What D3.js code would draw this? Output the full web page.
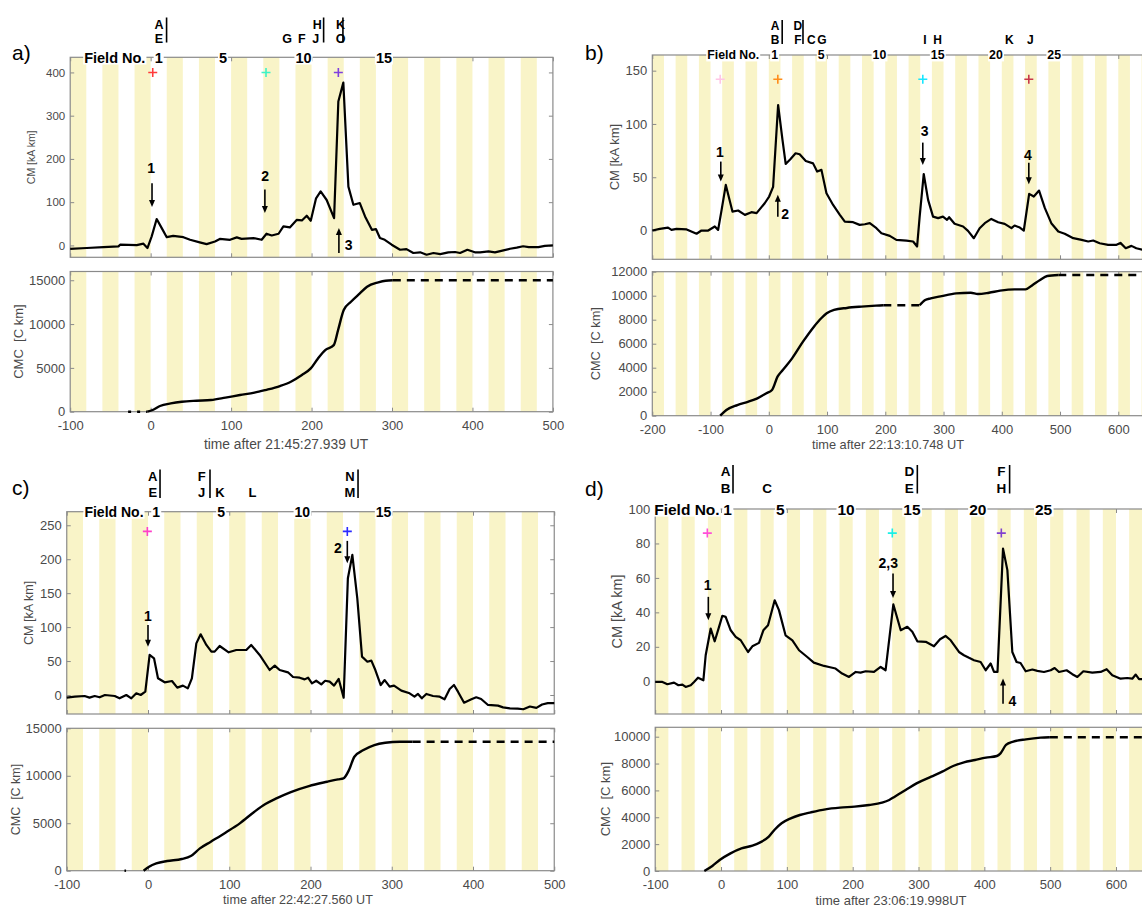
<!DOCTYPE html>
<html>
<head>
<meta charset="utf-8">
<script src="https://cdn.jsdelivr.net/npm/d3@7"></script>
<style>
body { margin: 0; background: #fff; }
svg { display: block; font-family: "Liberation Sans", Arial, sans-serif; }
</style>
</head>
<body>
<svg id="chart" width="1142" height="908"></svg>
<script>
// ---- data: [seconds, value] ----
const cmA = [[-100,-7.8],[-79.5,-6],[-58.7,-3.8],[-40,-2.2],[-38,1.6],[-17.3,0.8],[-9,4],[-4,-6],[1.3,21],[7.5,61],[13.8,40],[20,19],[28,22],[40.7,19],[49,13],[61,7],[69.6,3],[80,9],[86,15],[98.7,13],[107,18.5],[113,15],[128,17],[138,13],[144,27],[150.5,23],[159,27],[165,44],[173,41.6],[181.5,59],[188,57.7],[194,68.5],[199,57],[205.6,109],[211.3,124.7],[218.8,105],[228,63],[233.3,332.6],[239.5,376.4],[245.8,136],[252,94],[260,98],[266.5,67],[275,36],[280,37.8],[285,17],[291,13],[299.6,1.6],[310,-10],[318,-8.5],[326.5,-17.6],[335,-16],[343,-21.5],[351.5,-17.6],[360,-20],[370,-16],[378.4,-15.3],[384.6,-17.6],[393.7,-10],[403,-16],[409.4,-16],[420,-14],[428,-16],[438.5,-11.5],[446.8,-7.7],[455,-5],[463,-2],[470,-4],[482,-4],[490,-1],[500,0]];
const cmcA = [[-4,0],[2.5,194],[11.6,650],[25,950],[38.7,1140],[57,1255],[75,1330],[93,1600],[111,1900],[129,2170],[142.6,2470],[160.7,2930],[174.3,3420],[188,4180],[199,4940],[208,6080],[217,7030],[227.6,7600],[233,9320],[240,11600],[249,12550],[260,13500],[269,14260],[283,14760],[292,14950],[301,15000]];
const cmcAGaps = [[[-28,0],[-4,0]],[[301,15000],[500,15000]]];

const cmB = [[-200,0],[-187,1.6],[-173,2.8],[-167,0.6],[-158.5,1.6],[-141,1],[-124,-3],[-115.6,0],[-104,0],[-92.7,3.8],[-87,0.6],[-81,19.4],[-73.8,42.8],[-62.4,17.8],[-52.6,18.8],[-41,14.7],[-29.8,17.2],[-21,16.3],[-7,25.6],[0.6,31.9],[7.4,41],[16,117.8],[23.5,85],[29,62.5],[37,66.9],[46,72.5],[53,71.6],[63.5,65.3],[76,63],[83,55.3],[90.4,56.9],[99,35],[110.4,24],[122,14.7],[130.5,8.4],[144.8,7.8],[156,5.3],[164.8,5.9],[173.4,6.9],[184.8,2.2],[193.4,-2.5],[207.7,-5],[219,-8.8],[236.3,-9.4],[247.8,-10.3],[254.6,-15],[259,13],[266,53],[273.5,28.8],[282,13],[290.7,11.6],[299,13],[306,10],[309.6,12.5],[319,6.3],[333.6,3.8],[342,-0.3],[352,-7.2],[362,2.2],[370.8,6.9],[382,10.9],[393.7,7.8],[405,6.3],[416.6,2.2],[422,4.7],[431,2.8],[437.8,0],[447,34.4],[455,31.9],[464,37.5],[474,21],[485,6.9],[497,-0.9],[508,-3],[522.8,-7.2],[537,-8.8],[548.4,-10.3],[557,-9.4],[568,-11.9],[582.6,-13.4],[597,-13.4],[603.7,-11.6],[612.8,-16.6],[622.6,-14.4],[631,-16.6],[650,-19]];
const cmcB1 = [[-83.4,0],[-72.8,475],[-54,890],[-35,1170],[-19.6,1450],[-4,1870],[5.5,2140],[15,3250],[24,3810],[40,4780],[58.7,6170],[77.5,7420],[90,8120],[99.4,8530],[112,8810],[134,8980],[159,9090],[184,9170],[196.6,9200]];
const cmcB2 = [[259,9200],[268.5,9640],[278,9780],[296.7,9970],[321.7,10190],[346.8,10250],[359,10140],[378,10250],[397,10420],[422,10530],[440.7,10530],[453,10900],[465.7,11310],[478,11640],[497,11730]];
const cmcBGaps = [[[196.6,9200],[259,9200]],[[497,11730],[650,11730]]];

const cmC = [[-100,-3.9],[-90,-2.5],[-78,-1.5],[-72,-3.9],[-65.6,-1.5],[-59.5,-3.4],[-53,0],[-41,-1.5],[-35,-4.9],[-26.7,0],[-20.5,-4.9],[-14.4,2.5],[-9,0],[-3.3,4.9],[2,59],[7.4,54],[12.3,24.6],[20.5,18.7],[29.5,20.6],[36,10.8],[43,13.8],[49,9.8],[54,24.6],[59.5,76],[64.8,89.4],[71.8,73.7],[78,63.9],[82,63.9],[88.2,72.2],[99.3,62.9],[108.7,66.3],[121,66.3],[127,73.7],[137.4,59],[149.7,36.8],[156,43.2],[162,36.8],[172.3,33.4],[178.5,26.5],[186.7,25.5],[192.8,23],[197,25.5],[201.8,17.2],[207,21],[213.3,15.7],[218,21],[223.6,19.6],[229,13.8],[234.7,23.6],[240.8,-3.9],[246,171.9],[251.5,206.3],[257.6,142.4],[263.4,56.5],[270,49],[274.9,50.6],[279.8,36.8],[286.4,14.7],[291.3,22],[297.4,12.3],[302.8,13.8],[311.8,6.4],[322,2.5],[328,-2.5],[332.3,1.5],[337,-4.9],[342.6,1.5],[350.8,-1.5],[359,-2.5],[365,-6.4],[371.3,8.8],[376.6,14.7],[381.5,4.9],[389,-11.3],[398,-6.4],[404,-3.4],[410,-5.9],[418.5,-14.7],[430.8,-15.7],[437,-18.2],[445.5,-19.6],[455,-20],[462,-21],[470,-17],[478,-19],[485,-14],[492,-12],[500,-12]];
const cmcC = [[-5.4,0],[1.3,421],[10.2,772],[23.6,1018],[41.6,1229],[52.7,1545],[63.9,2353],[77.3,3055],[95.3,4003],[113,4986],[131,6215],[144.5,7022],[158,7619],[175.8,8286],[198,8918],[220.5,9374],[233.9,9620],[240.6,9725],[247.4,10603],[254,12008],[265.2,12710],[278.6,13237],[292,13483],[310,13588],[325.7,13588]];
const cmcCGaps = [[[-29,0],[-27,0]],[[325.7,13588],[500,13588]]];

const cmD = [[-100,-0.4],[-89,-0.4],[-81.5,-1.7],[-71.4,-0.8],[-64.8,-2.3],[-58.7,-1.9],[-53.7,-3.3],[-46,-2.3],[-41,-0.4],[-35,2.1],[-26.8,0.6],[-23.3,15.1],[-15.7,30.6],[-9.6,23.2],[-3,31.6],[2,38],[7,37.4],[14.7,29.6],[22.3,25.8],[29.9,23.8],[41,17],[47.6,20.3],[57.7,22.3],[64.3,29.6],[71.4,32.5],[81.5,47],[88,41.3],[98,26.7],[108.4,23.8],[118.5,18],[131,14.1],[141,10.8],[156.5,8.9],[164,8.3],[174,7.4],[184,4.5],[194.4,2.5],[204.6,5.4],[212,5],[219.7,5.8],[232.4,5.4],[242.5,8.3],[250,6.4],[261.8,44.6],[273,29.6],[283,31.6],[290.6,28.7],[298.2,23.2],[311,22.9],[323.5,20.3],[332.7,24.4],[341,26.3],[348.9,23.8],[361.5,17],[369,15.1],[376.7,13.6],[384.3,12.2],[394.4,11.2],[402,6.4],[409.6,10.3],[414.7,5.4],[420,5.4],[428.4,77],[435,64.5],[442.5,17],[449,11.2],[455,10.6],[462.8,5.8],[473,6.8],[480.5,6],[490.6,5.4],[500.8,6.4],[506.8,7.7],[513.4,5.4],[525,6.4],[533.7,4.1],[541.3,2.5],[550.4,5.8],[564,5],[576.7,5.4],[585.8,7],[594.4,3.5],[607,1.5],[617,1.9],[624.8,1.5],[630,3.9],[635,1.2],[650,1.2]];
const cmcD = [[-25.4,0],[-13.2,372],[-2.1,819],[14.4,1315],[31,1688],[47.7,1886],[58.8,2110],[72.6,2557],[81,3053],[92,3550],[105.9,3922],[119.7,4170],[136.4,4369],[158.6,4592],[180.8,4716],[203,4790],[225,4914],[244.4,5088],[255.5,5287],[263.8,5535],[280.4,6031],[297,6528],[319.3,7024],[336,7397],[352.6,7819],[369,8092],[385.8,8266],[402.4,8440],[419,8564],[424.6,8762],[432.9,9383],[444,9631],[463.3,9805],[485.5,9929],[499.5,9954]];
const cmcDGaps = [[[499.5,9954],[650,9954]]];

// colored crosses [t, value, colour]
const marksA = [[2.6,400,'#ff3b3b'],[143.4,400,'#3df2c8'],[233.3,400,'#7f3fdf']];
const marksB = [[-83.4,142,'#ffc6e6'],[15.5,142,'#ff8c1a'],[264.4,142,'#19e6ff'],[446.4,142,'#c8384b']];
const marksC = [[-0.8,241,'#ff3fc8'],[245.3,241,'#2a2aff']];
const marksD = [[-20.8,86,'#ff4fd8'],[260.2,86,'#19f0e6'],[425.8,86,'#8040d0']];

// numbered arrows: arrow at t from v0 to v1 (head at v1), label at (lt, lv)
const arrowsA = [{text:'1',t:1.7,v0:144,v1:88.7,lt:0.7,lv:167},{text:'2',t:142,v0:129,v1:75,lt:142.2,lv:148},{text:'3',t:234,v0:-17.5,v1:40,lt:246,lv:-11.5}];
const arrowsB = [{text:'1',t:-82.4,v0:64.7,v1:46,lt:-84,lv:69.4},{text:'2',t:15.5,v0:13,v1:33.5,lt:28,lv:10.7},{text:'3',t:264.4,v0:82.5,v1:61.6,lt:267.6,lv:88.8},{text:'4',t:446.4,v0:63.7,v1:43.5,lt:445,lv:66.3}];
const arrowsC = [{text:'1',t:0,v0:103,v1:71,lt:0,lv:109},{text:'2',t:245.3,v0:227,v1:194,lt:233.8,lv:209.7}];
const arrowsD = [{text:'1',t:-19.3,v0:49,v1:35.4,lt:-20.2,lv:52.9},{text:'2,3',t:261.3,v0:62.6,v1:48.4,lt:254,lv:65.7},{text:'4',t:428.4,v0:-13,v1:1.6,lt:442.5,lv:-14.4}];

// letters above the field axis [letter, t, row] and separator bars at t
const eventsA = [['A',10.3,1],['E',10.3,2],['G',169.6,2],['F',187.9,2],['J',205.1,2],['H',207.2,1],['K',236,1],['O',236,2]];
const barsA = [19.8,215,239];
const eventsB = [['A',11,1],['B',11,2],['D',50,1],['F',50,2],['C',73,2],['G',91,2],['I',268,2],['H',290,2],['K',413,2],['J',449,2]];
const barsB = [23,58.7];
const eventsC = [['A',5.8,1],['E',5.8,2],['F',66,1],['J',66,2],['K',88.6,2],['L',128.7,2],['N',248.6,1],['M',248.6,2]];
const barsC = [14.8,76.3,258.5];
const eventsD = [['A',7,1],['B',7,2],['C',70,2],['D',286,1],['E',286,2],['F',426,1],['H',426,2]];
const barsD = [18.2,298.2,438.4];

const fieldsShort = [1,5,10,15];
const fieldsLong = [1,5,10,15,20,25];
const xTicksA = [-100,0,100,200,300,400,500];
const xTicksB = [-200,-100,0,100,200,300,400,500,600];
const xTicksD = [-100,0,100,200,300,400,500,600];

const stripe = '#f9f4c8';
const axisGrey = '#8a8a8a';
const tickText = '#4a4a4a';

const panels = [
  { name:'a)', nameX:12, nameY:60, left:70.2, right:552.9, xDomain:[-100,500], stripeStart:-100,
    topY:[57.3,257.3], topDomain:[-27.5,435], topTicks:[0,100,200,300,400], topFont:11.5,
    botY:[271.5,411.7], botDomain:[0,16000], botTicks:[0,5000,10000,15000],
    xTicks:xTicksA, cm:cmA, cmc:[cmcA], gaps:cmcAGaps, marks:marksA, arrows:arrowsA,
    events:eventsA, bars:barsA, rows:[28.5,42.5], barSpan:[17.5,42.5], evFont:12.5,
    fields:fieldsShort, fieldFont:14.5, fieldNoEnd:-6.5,
    cmLabelX:31, cmLabelFont:10.5, cmcLabelX:18, cmcLabelFont:13,
    title:'time after 21:45:27.939 UT', titleX:286, titleY:449, titleFont:13.8 },
  { name:'b)', nameX:585, nameY:60, left:652.3, right:1147.4, xDomain:[-200,650], stripeStart:-200,
    topY:[55,259.3], topDomain:[-27,164.7], topTicks:[0,50,100,150], topFont:13,
    botY:[271.7,415.7], botDomain:[0,12000], botTicks:[0,2000,4000,6000,8000,10000,12000],
    xTicks:xTicksB, cm:cmB, cmc:[cmcB1,cmcB2], gaps:cmcBGaps, marks:marksB, arrows:arrowsB,
    events:eventsB, bars:barsB, rows:[30,44], barSpan:[20,44], evFont:12,
    fields:fieldsLong, fieldFont:12.3, fieldNoEnd:-16.5,
    cmLabelX:614, cmLabelFont:13, cmcLabelX:596, cmcLabelFont:12.8,
    title:'time after 22:13:10.748 UT', titleX:888, titleY:449, titleFont:12.8 },
  { name:'c)', nameX:12, nameY:495, left:66.75, right:554.25, xDomain:[-100,500], stripeStart:-100,
    topY:[511.7,714], topDomain:[-28,270], topTicks:[0,50,100,150,200,250], topFont:13,
    botY:[728.3,870.7], botDomain:[0,15000], botTicks:[0,5000,10000,15000],
    xTicks:xTicksA, cm:cmC, cmc:[cmcC], gaps:cmcCGaps, marks:marksC, arrows:arrowsC,
    events:eventsC, bars:barsC, rows:[481,497], barSpan:[469.5,498], evFont:13,
    fields:fieldsShort, fieldFont:14, fieldNoEnd:-5.5,
    cmLabelX:29, cmLabelFont:12.6, cmcLabelX:16, cmcLabelFont:12.5,
    title:'time after 22:42:27.560 UT', titleX:298, titleY:904, titleFont:12.6 },
  { name:'d)', nameX:585, nameY:496, left:655.2, right:1148.9, xDomain:[-100,650], stripeStart:-100,
    topY:[509,714], topDomain:[-19,100], topTicks:[0,20,40,60,80,100], topFont:13,
    botY:[727.3,871], botDomain:[0,10700], botTicks:[0,2000,4000,6000,8000,10000],
    xTicks:xTicksD, cm:cmD, cmc:[cmcD], gaps:cmcDGaps, marks:marksD, arrows:arrowsD,
    events:eventsD, bars:barsD, rows:[476,493], barSpan:[465,493.5], evFont:13.5,
    fields:fieldsLong, fieldFont:15.5, fieldNoEnd:-2.1,
    cmLabelX:617, cmLabelFont:14.5, cmcLabelX:605, cmcLabelFont:13,
    title:'time after 23:06:19.998UT', titleX:891, titleY:905, titleFont:13 }
];

function styleAxis(sel, font) {
  sel.select('.domain').remove();
  sel.selectAll('.tick line').attr('stroke', axisGrey);
  sel.selectAll('.tick text').attr('fill', tickText).style('font-size', font + 'px');
}

function drawBox(g, x, y, yRange, xTicks, yTicks, showX, font, p) {
  const [y0, y1] = yRange;
  // stripes, 20 s wide every 40 s
  g.append('g')
    .selectAll('rect')
    .data(d3.range(p.stripeStart, p.xDomain[1], 40))
    .enter()
    .append('rect')
    .attr('x', d => x(d))
    .attr('width', d => x(Math.min(d + 20, p.xDomain[1])) - x(d))
    .attr('y', y0)
    .attr('height', y1 - y0)
    .attr('fill', stripe);

  const fmt = d => String(d);
  g.append('g').attr('transform', `translate(0,${y1})`)
    .call(d3.axisBottom(x).tickValues(xTicks).tickSize(-4).tickPadding(9).tickFormat(showX ? fmt : ''))
    .call(s => styleAxis(s, 13));
  g.append('g').attr('transform', `translate(0,${y0})`)
    .call(d3.axisTop(x).tickValues(xTicks).tickSize(-4).tickFormat(''))
    .call(s => styleAxis(s, 13));
  g.append('g').attr('transform', `translate(${p.left},0)`)
    .call(d3.axisLeft(y).tickValues(yTicks).tickSize(-4).tickPadding(5).tickFormat(fmt))
    .call(s => styleAxis(s, font));
  g.append('g').attr('transform', `translate(${p.right},0)`)
    .call(d3.axisRight(y).tickValues(yTicks).tickSize(-4).tickFormat(''))
    .call(s => styleAxis(s, font));

  g.append('rect')
    .attr('x', p.left).attr('y', y0)
    .attr('width', p.right - p.left).attr('height', y1 - y0)
    .attr('fill', 'none').attr('stroke', axisGrey).attr('stroke-width', 1.2);
}

function withBackground(g, textSel) {
  const b = textSel.node().getBBox();
  g.insert('rect', () => textSel.node())
    .attr('x', b.x - 1).attr('y', b.y + 1)
    .attr('width', b.width + 2).attr('height', b.height - 2)
    .attr('fill', '#fff');
}

function drawPanel(svg, p) {
  const g = svg.append('g');
  const x = d3.scaleLinear().domain(p.xDomain).range([p.left, p.right]);
  const yT = d3.scaleLinear().domain(p.topDomain).range([p.topY[1], p.topY[0]]);
  const yB = d3.scaleLinear().domain(p.botDomain).range([p.botY[1], p.botY[0]]);

  drawBox(g, x, yT, p.topY, p.xTicks, p.topTicks, false, p.topFont, p);
  drawBox(g, x, yB, p.botY, p.xTicks, p.botTicks, true, 13, p);

  // field number axis on top
  const fg = g.append('g').style('font-weight', 'bold').style('font-size', p.fieldFont + 'px');
  const fieldNo = fg.append('text')
    .attr('x', x(p.fieldNoEnd)).attr('y', p.topY[0])
    .attr('dy', '0.36em').attr('text-anchor', 'end')
    .text('Field No.');
  withBackground(fg, fieldNo);
  p.fields.forEach(f => {
    const t = fg.append('text')
      .attr('x', x(20 * f - 10)).attr('y', p.topY[0])
      .attr('dy', '0.36em').attr('text-anchor', 'middle')
      .text(f);
    withBackground(fg, t);
  });

  // event letters and separators
  const eg = g.append('g').style('font-weight', 'bold').style('font-size', p.evFont + 'px');
  eg.selectAll('text')
    .data(p.events)
    .enter()
    .append('text')
    .attr('x', d => x(d[1]))
    .attr('y', d => p.rows[d[2] - 1])
    .attr('text-anchor', 'middle')
    .text(d => d[0]);
  eg.selectAll('line')
    .data(p.bars)
    .enter()
    .append('line')
    .attr('x1', d => x(d)).attr('x2', d => x(d))
    .attr('y1', p.barSpan[0]).attr('y2', p.barSpan[1])
    .attr('stroke', '#000').attr('stroke-width', 1.6);

  // CM curve
  const lineT = d3.line().x(d => x(d[0])).y(d => yT(d[1]));
  g.append('path')
    .attr('d', lineT(p.cm))
    .attr('fill', 'none').attr('stroke', '#000')
    .attr('stroke-width', 2.2).attr('stroke-linejoin', 'round');

  // CMC curve, solid parts and dashed gaps
  const lineB = d3.line().x(d => x(d[0])).y(d => yB(d[1])).curve(d3.curveMonotoneX);
  p.cmc.forEach(seg => {
    g.append('path')
      .attr('d', lineB(seg))
      .attr('fill', 'none').attr('stroke', '#000')
      .attr('stroke-width', 2.4);
  });
  p.gaps.forEach(seg => {
    g.append('path')
      .attr('d', d3.line().x(d => x(d[0])).y(d => yB(d[1]))(seg))
      .attr('fill', 'none').attr('stroke', '#000')
      .attr('stroke-width', 2.4).attr('stroke-dasharray', seg[0][0] < 0 ? '3,6' : '8,6');
  });

  // coloured crosses
  p.marks.forEach(m => {
    const cx = x(m[0]), cy = yT(m[1]);
    g.append('path')
      .attr('d', `M${cx - 4.5},${cy}H${cx + 4.5}M${cx},${cy - 4.5}V${cy + 4.5}`)
      .attr('stroke', m[2]).attr('stroke-width', 1.6);
  });

  // arrows with numbers
  p.arrows.forEach(a => {
    const ax = x(a.t), ya = yT(a.v0), yb = yT(a.v1);
    const dir = yb > ya ? 1 : -1;
    g.append('line')
      .attr('x1', ax).attr('x2', ax)
      .attr('y1', ya).attr('y2', yb - dir * 5)
      .attr('stroke', '#000').attr('stroke-width', 1.6);
    g.append('path')
      .attr('d', `M${ax - 3},${yb - dir * 7}L${ax + 3},${yb - dir * 7}L${ax},${yb}Z`)
      .attr('fill', '#000');
    g.append('text')
      .attr('x', x(a.lt)).attr('y', yT(a.lv))
      .attr('text-anchor', 'middle')
      .style('font-weight', 'bold').style('font-size', '14px')
      .text(a.text);
  });

  // axis labels
  const cmMid = (p.topY[0] + p.topY[1]) / 2;
  const cmcMid = (p.botY[0] + p.botY[1]) / 2;
  g.append('text')
    .attr('transform', `translate(${p.cmLabelX},${cmMid}) rotate(-90)`)
    .attr('text-anchor', 'middle').attr('dy', '0.35em')
    .attr('fill', tickText).style('font-size', p.cmLabelFont + 'px')
    .text('CM [kA km]');
  g.append('text')
    .attr('transform', `translate(${p.cmcLabelX},${cmcMid}) rotate(-90)`)
    .attr('text-anchor', 'middle').attr('dy', '0.35em')
    .attr('fill', tickText).style('font-size', p.cmcLabelFont + 'px')
    .style('white-space', 'pre')
    .text('CMC  [C km]');
  g.append('text')
    .attr('x', p.titleX).attr('y', p.titleY)
    .attr('text-anchor', 'middle')
    .attr('fill', tickText).style('font-size', p.titleFont + 'px')
    .text(p.title);

  g.append('text')
    .attr('x', p.nameX).attr('y', p.nameY)
    .style('font-size', '21px')
    .text(p.name);
}

const svg = d3.select('#chart');
panels.forEach(p => drawPanel(svg, p));
</script>
</body>
</html>
